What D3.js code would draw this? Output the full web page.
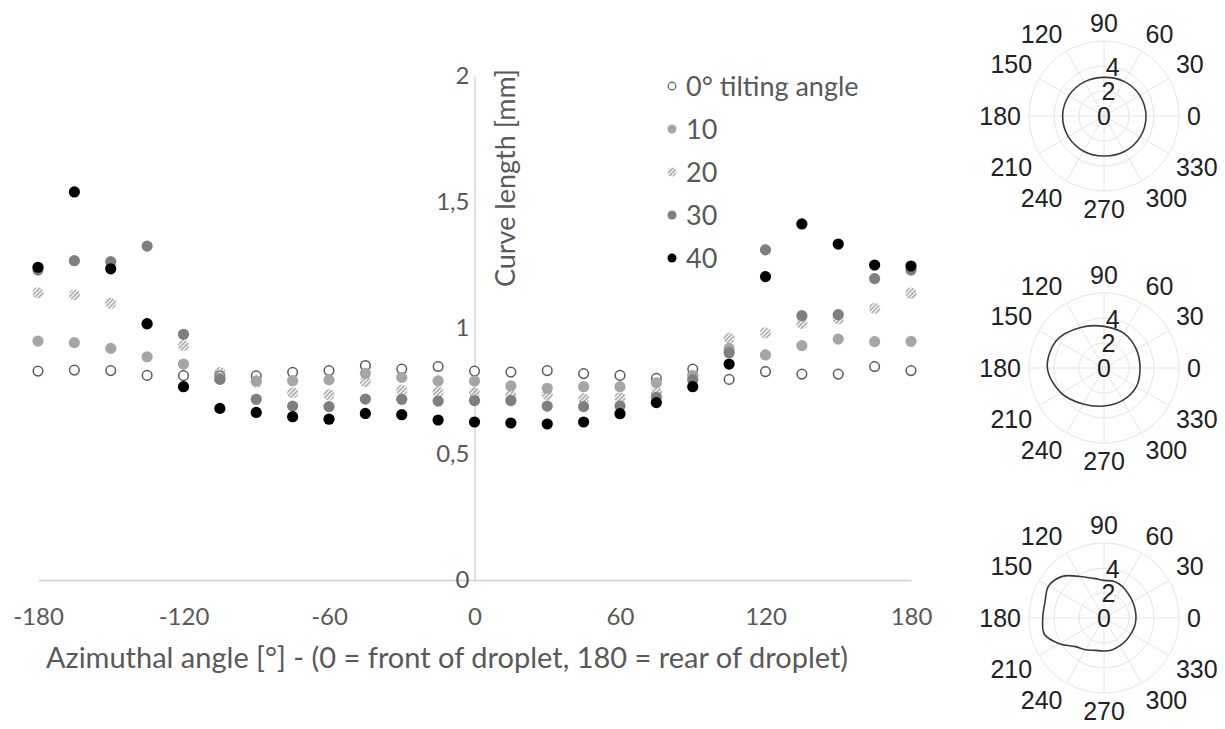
<!DOCTYPE html>
<html lang="en">
<head>
<meta charset="utf-8">
<title>Curve length vs azimuthal angle</title>
<script src="https://cdn.jsdelivr.net/npm/d3@7"></script>
<style>
  body { margin: 0; background: #fff; }
  .axis text { font-family: Lato, sans-serif; font-size: 24px; fill: #595959; }
  .axis path { stroke: #d0d0d0; stroke-width: 1.3; }
  .title { font-family: Lato, sans-serif; font-size: 27px; fill: #595959; }
  .legend text { font-family: Lato, sans-serif; font-size: 27px; fill: #595959; }
  .polar text { font-family: "Liberation Sans", Arial, sans-serif; font-size: 25px; fill: #222; }
</style>
</head>
<body>
<div id="chart"></div>
<script>
// azimuthal angles (categories on x)
var angles = [-180,-165,-150,-135,-120,-105,-90,-75,-60,-45,-30,-15,0,15,30,45,60,75,90,105,120,135,150,165,180];

// curve length [mm] per tilting angle
var tilt0  = [0.829,0.833,0.831,0.812,0.811,0.81,0.81,0.824,0.831,0.851,0.837,0.847,0.829,0.825,0.831,0.819,0.812,0.80,0.837,0.796,0.827,0.817,0.817,0.847,0.831];
var tilt10 = [0.948,0.942,0.919,0.886,0.857,0.80,0.79,0.791,0.794,0.82,0.804,0.79,0.79,0.77,0.761,0.767,0.767,0.783,0.81,0.919,0.893,0.93,0.956,0.946,0.947];
var tilt20 = [1.14,1.132,1.098,1.015,0.93,0.824,0.785,0.743,0.735,0.787,0.754,0.746,0.743,0.731,0.735,0.72,0.723,0.745,0.813,0.959,0.981,1.018,1.037,1.078,1.138];
var tilt30 = [1.23,1.267,1.263,1.325,0.975,0.796,0.717,0.69,0.688,0.718,0.717,0.71,0.712,0.712,0.69,0.688,0.69,0.725,0.794,0.902,1.31,1.049,1.053,1.196,1.23];
var tilt40 = [1.241,1.54,1.235,1.017,0.767,0.681,0.665,0.648,0.638,0.661,0.656,0.635,0.627,0.623,0.619,0.627,0.66,0.704,0.767,0.857,1.204,1.413,1.333,1.25,1.246];

var seriesNames = ["0° tilting angle","10","20","30","40"];
var xTicks = [-180,-120,-60,0,60,120,180];
var yTicks = [0,0.5,1,1.5,2];

// polar insets (droplet contour radius)
var thetaTicks = [0,30,60,90,120,150,180,210,240,270,300,330];
var rTicks = [0,2,4];
var contourAnglesA = [0,30,60,90,120,150,180,210,240,270,300,330];
var contourA = [3.36,3.3,3.2,3.09,3.15,3.25,3.31,3.3,3.25,3.2,3.28,3.35];
var contourAnglesB = [0,30,60,90,120,150,180,210,240,270,300,330];
var contourB = [2.88,2.99,3.2,3.33,3.75,4.4,4.53,3.97,3.33,3.04,2.99,2.99];
var contourAnglesC = [0,15,30,45,60,75,90,105,120,135,150,165,180,195,210,225,240,255,270,285,300,315,330,345];
var contourC = [2.56,2.58,2.64,2.74,2.92,3.04,3.01,3.28,3.84,4.71,5.12,4.89,4.9,4.95,4.12,3.24,2.93,2.68,2.64,2.62,2.55,2.52,2.5,2.54];

var w = 1225, h = 729;
var svg = d3.select("#chart").append("svg")
    .attr("width", w).attr("height", h);

svg.append("defs").append("pattern")
    .attr("id", "hatch")
    .attr("patternUnits", "userSpaceOnUse")
    .attr("width", 3).attr("height", 3)
    .attr("patternTransform", "rotate(45)")
    .append("rect")
    .attr("width", 1.5).attr("height", 3)
    .attr("fill", "#a0a0a0");

var xScale = d3.scaleLinear().domain([-180, 180]).range([38, 911]);
var yScale = d3.scaleLinear().domain([0, 2]).range([580, 76]);

// x axis sits at y = 0, labels pushed below
svg.append("g")
    .attr("class", "axis")
    .attr("transform", "translate(0," + yScale(0) + ")")
    .call(d3.axisBottom(xScale).tickValues(xTicks).tickSize(0).tickPadding(28)
        .tickFormat(function(d){ return String(d); }));

svg.append("g")
    .attr("class", "axis")
    .attr("transform", "translate(" + xScale(0) + ",0)")
    .call(d3.axisLeft(yScale).tickValues(yTicks).tickSize(0).tickPadding(5)
        .tickFormat(function(d){ return String(d).replace(".", ","); }));

svg.append("text")
    .attr("class", "title")
    .attr("x", 447).attr("y", 668)
    .attr("text-anchor", "middle")
    .style("font-size", "29px")
    .text("Azimuthal angle [°] - (0 = front of droplet, 180 = rear of droplet)");

svg.append("text")
    .attr("class", "title")
    .attr("transform", "translate(515,178) rotate(-90)")
    .attr("text-anchor", "middle")
    .text("Curve length [mm]");

// series styles
var styles = [
  { fill: "#fff", stroke: "#595959", sw: 1.5 },
  { fill: "#a6a6a6", stroke: "none", sw: 0 },
  { fill: "url(#hatch)", stroke: "none", sw: 0 },
  { fill: "#7f7f7f", stroke: "none", sw: 0 },
  { fill: "#000", stroke: "none", sw: 0 }
];
var allSeries = [tilt0, tilt10, tilt20, tilt30, tilt40];

allSeries.forEach(function(vals, s){
  svg.append("g").selectAll("circle")
    .data(vals)
    .enter()
    .append("circle")
    .attr("cx", function(d, i){ return xScale(angles[i]); })
    .attr("cy", function(d){ return yScale(d); })
    .attr("r", styles[s].sw ? 4.8 : 5.6)
    .attr("fill", styles[s].fill)
    .attr("stroke", styles[s].stroke)
    .attr("stroke-width", styles[s].sw);
});

// legend
var legend = svg.append("g").attr("class", "legend");
seriesNames.forEach(function(name, s){
  var y = 86 + s * 43;
  legend.append("circle")
    .attr("cx", 672).attr("cy", y)
    .attr("r", styles[s].sw ? 3.8 : 4.5)
    .attr("fill", styles[s].fill)
    .attr("stroke", styles[s].stroke)
    .attr("stroke-width", styles[s].sw ? 1.2 : 0);
  legend.append("text")
    .attr("x", 686).attr("y", y)
    .attr("dy", "0.36em")
    .text(name);
});

// polar plots
var rScale = d3.scaleLinear().domain([0, 6]).range([0, 75]);
var rad = Math.PI / 180;

function drawPolar(cx, cy, thetas, radii){
  var g = svg.append("g").attr("class", "polar")
      .attr("transform", "translate(" + cx + "," + cy + ")");

  g.selectAll(".ring").data([2, 4, 6]).enter()
    .append("circle")
    .attr("r", function(d){ return rScale(d); })
    .attr("fill", "none")
    .attr("stroke", "#e4e4e4")
    .attr("stroke-width", 1);

  g.selectAll(".spoke").data(thetaTicks).enter()
    .append("line")
    .attr("x2", function(d){ return rScale(6) * Math.cos(d * rad); })
    .attr("y2", function(d){ return -rScale(6) * Math.sin(d * rad); })
    .attr("stroke", "#e4e4e4")
    .attr("stroke-width", 1);

  var pts = thetas.map(function(t, i){ return [t, radii[i]]; });
  var line = d3.lineRadial()
      .angle(function(d){ return (90 - d[0]) * rad; })
      .radius(function(d){ return rScale(d[1]); })
      .curve(d3.curveCatmullRomClosed);
  g.append("path")
    .attr("d", line(pts))
    .attr("fill", "none")
    .attr("stroke", "#3a3a3a")
    .attr("stroke-width", 1.6);

  // angle labels
  var R = 83;
  g.selectAll(".tlab").data(thetaTicks).enter()
    .append("text")
    .attr("x", function(d){ return R * Math.cos(d * rad); })
    .attr("y", function(d){ return -R * Math.sin(d * rad); })
    .attr("text-anchor", function(d){
      var c = Math.cos(d * rad);
      return c > 0.3 ? "start" : (c < -0.3 ? "end" : "middle");
    })
    .attr("dy", function(d){
      var s = Math.sin(d * rad);
      return s > 0.3 ? "-0.05em" : (s < -0.3 ? "0.75em" : "0.36em");
    })
    .text(function(d){ return d; });

  // radius labels
  g.selectAll(".rlab").data(rTicks).enter()
    .append("text")
    .attr("x", function(d){ return rScale(d) * Math.cos(80 * rad); })
    .attr("y", function(d){ return -rScale(d) * Math.sin(80 * rad); })
    .attr("text-anchor", "middle")
    .attr("dy", "0.36em")
    .text(function(d){ return d; });
}

drawPolar(1104, 116, contourAnglesA, contourA);
drawPolar(1104, 368, contourAnglesB, contourB);
drawPolar(1104, 618, contourAnglesC, contourC);
</script>
</body>
</html>
